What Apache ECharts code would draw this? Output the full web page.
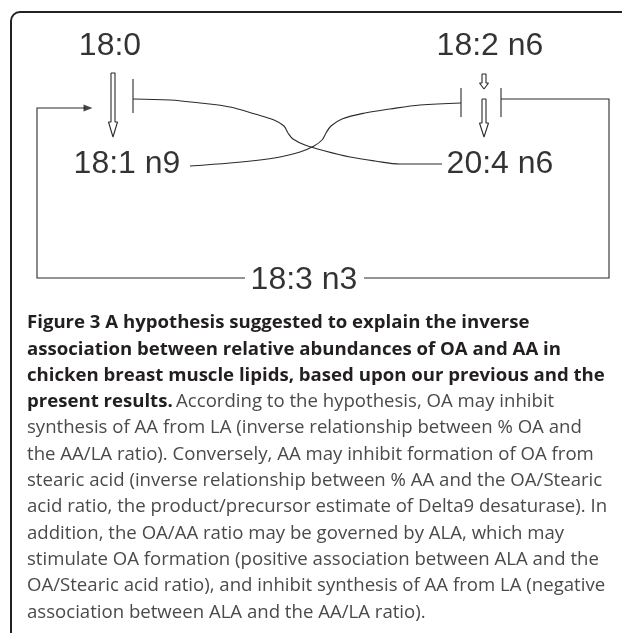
<!DOCTYPE html>
<html>
<head>
<meta charset="utf-8">
<script src="https://cdn.jsdelivr.net/npm/echarts@6/dist/echarts.min.js"></script>
<style>
html,body{margin:0;padding:0;background:#fff;}
#chart{width:622px;height:633px;}
</style>
</head>
<body>
<div id="chart"></div>
<script>
// ---- Node labels (fatty acids) ----
const nodeNames = ['18:0', '18:2 n6', '18:1 n9', '20:4 n6', '18:3 n3'];
const nodeX = [110, 490, 127, 500, 304];
const nodeY = [46, 46, 164, 164, 280];

// ---- Inhibition curves ----
const curveOAinhibitsAA = [[190,166],[230,163],[260,160],[280,157],[300,152],[314,146],[322,140],[326,133],[331,126],[342,119],[365,113],[390,109],[420,105],[461,103]];
const curveAAinhibitsOA = [[442,164],[400,164],[375,161],[350,157],[325,151],[305,145],[293,139],[288,133],[284,126],[274,120],[255,114],[230,107],[200,103],[170,100],[133,99]];

// ---- Straight connectors ----
const barStearic = [[133,79],[133,113]];
const barLAleft = [[461,88],[461,117]];
const barLAright = [[501,88],[501,117]];
const loopRight = [[364,278],[609,278],[609,99],[501,99]];
const loopLeft = [[245,278],[37,278],[37,108],[86,108]];
const loopLeftHead = [[88,108]];

// ---- Hollow conversion arrows: [centerX, topY, headY, tipY, shaftHalf, headHalf] ----
const convArrows = [
  [113, 73, 122, 137, 2, 4.5],
  [484, 74, 83, 89, 2, 4.5],
  [484, 99, 123, 137, 2, 4.5]
];

// ---- Caption ----
const captionBold = [
  'Figure 3 A hypothesis suggested to explain the inverse',
  'association between relative abundances of OA and AA in',
  'chicken breast muscle lipids, based upon our previous and the'
];
const captionMixedBold = 'present results.';
const captionMixedRegular = 'According to the hypothesis, OA may inhibit';
const captionRegular = [
  'synthesis of AA from LA (inverse relationship between % OA and',
  'the AA/LA ratio). Conversely, AA may inhibit formation of OA from',
  'stearic acid (inverse relationship between % AA and the OA/Stearic',
  'acid ratio, the product/precursor estimate of Delta9 desaturase). In',
  'addition, the OA/AA ratio may be governed by ALA, which may',
  'stimulate OA formation (positive association between ALA and the',
  'OA/Stearic acid ratio), and inhibit synthesis of AA from LA (negative',
  'association between ALA and the AA/LA ratio).'
];

const LINE = '#2b2b2b';
const chart = echarts.init(document.getElementById('chart'), null, {renderer: 'canvas'});

function arrowOutline(a) {
  const [cx, top, head, tip, sh, hh] = a;
  return [[cx-sh,top],[cx+sh,top],[cx+sh,head],[cx+hh,head],[cx,tip],[cx-hh,head],[cx-sh,head],[cx-sh,top]];
}

const series = [];
function lineSeries(pts, smooth) {
  series.push({
    type: 'line', data: pts, smooth: smooth || false, symbol: 'none', silent: true,
    clip: false, animation: false,
    lineStyle: {color: LINE, width: 1.1}
  });
}
lineSeries(curveOAinhibitsAA, 0.35);
lineSeries(curveAAinhibitsOA, 0.35);
convArrows.forEach(a => lineSeries(arrowOutline(a), false));

series.push({
  type: 'lines', coordinateSystem: 'cartesian2d', polyline: true, silent: true,
  animation: false,
  lineStyle: {color: LINE, width: 1.1, opacity: 1},
  data: [
    {coords: barStearic}, {coords: barLAleft}, {coords: barLAright}, {coords: loopRight}, {coords: loopLeft}
  ]
});
series.push({
  type: 'scatter', silent: true, animation: false,
  symbol: 'triangle', symbolSize: [7, 9], symbolRotate: -90,
  itemStyle: {color: '#1a1a1a'},
  data: loopLeftHead
});
series.push({
  type: 'scatter', silent: true, animation: false, symbolSize: 1,
  itemStyle: {color: 'rgba(0,0,0,0)'},
  label: {
    show: true, position: 'inside', formatter: p => p.data[2],
    fontFamily: 'Liberation Sans', fontSize: 32, color: '#000'
  },
  data: nodeNames.map((n, i) => [nodeX[i], nodeY[i], n])
});

// caption graphics
const capX = 27, capY0 = 323, capStep = 26.3;
const FS = 18.6;
const boldFont = 'bold ' + FS + 'px "Open Sans"';
const regFont = FS + 'px "Open Sans"';
const graphics = [{
  type: 'rect', silent: true,
  shape: {x: 11, y: 12, width: 700, height: 700, r: [9, 0, 0, 0]},
  style: {fill: 'none', stroke: '#222', lineWidth: 2}
}];
let li = 0;
captionBold.forEach(t => {
  graphics.push({type: 'text', silent: true, x: capX, y: capY0 + capStep * li++,
    style: {text: t, font: boldFont, fill: '#231f20', verticalAlign: 'middle'}});
});
graphics.push({type: 'text', silent: true, x: capX, y: capY0 + capStep * li++,
  style: {
    text: '{b|' + captionMixedBold + '} {r|' + captionMixedRegular + '}',
    verticalAlign: 'middle',
    rich: {
      b: {fontFamily: 'Open Sans', fontWeight: 'bold', fontSize: FS, fill: '#231f20', color: '#231f20'},
      r: {fontFamily: 'Open Sans', fontSize: FS, fill: '#4a4a4a', color: '#4a4a4a'}
    }
  }});
captionRegular.forEach(t => {
  graphics.push({type: 'text', silent: true, x: capX, y: capY0 + capStep * li++,
    style: {text: t, font: regFont, fill: '#4a4a4a', verticalAlign: 'middle'}});
});

chart.setOption({
  animation: false,
  backgroundColor: '#fff',
  grid: {left: 0, right: 0, top: 0, bottom: 0},
  xAxis: {type: 'value', min: 0, max: 622, show: false},
  yAxis: {type: 'value', min: 0, max: 633, inverse: true, show: false},
  series: series,
  graphic: graphics
});
</script>
</body>
</html>
